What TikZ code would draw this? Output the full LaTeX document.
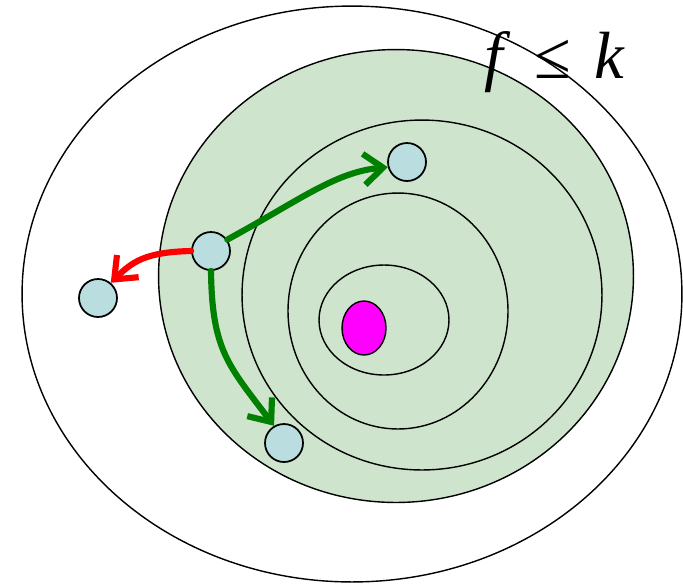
\documentclass[tikz,border=0pt]{standalone}
\usepackage{fontspec}
\newfontfamily\lblfont{Liberation Serif}
\usepackage{tikz}
\usetikzlibrary{
  arrows.meta,
  shapes.geometric
}
\definecolor{setgreen}{RGB}{207,228,205}
\definecolor{ptblue}{RGB}{186,222,224}
\definecolor{optpink}{RGB}{255,0,255}
\definecolor{movegreen}{RGB}{0,128,0}
\definecolor{movered}{RGB}{255,0,0}
\tikzset{
  lvlset/.style={draw, ellipse, inner sep=0pt, line width=0.8pt},
  ptnode/.style={draw, circle, fill=ptblue, inner sep=0pt,
    minimum size=0.76cm, line width=1pt},
  movearr/.style={-{Straight Barb[length=0.38cm, width=0.62cm]},
    line width=3.5pt, line cap=round, line join=round},
}

\begin{document}
\begin{tikzpicture}[x=0.02cm, y=-0.02cm]
  \useasboundingbox (0,0) rectangle (683,583);

  % level sets
  \node[lvlset, minimum width=13.2cm, minimum height=11.52cm] (out) at (352,294) {};
  \node[lvlset, fill=setgreen, minimum width=9.5cm, minimum height=9.06cm] (sub) at (396,276) {};
  \node[lvlset, minimum width=7.2cm, minimum height=7.0cm] (lvA) at (422,295) {};
  \node[lvlset, minimum width=4.4cm, minimum height=4.72cm] (lvB) at (398,311) {};
  \node[lvlset, minimum width=2.6cm, minimum height=2.2cm] (lvC) at (384,320) {};
  \node[lvlset, fill=optpink, minimum width=0.88cm, minimum height=1.08cm] (opt) at (364,328) {};

  \node[font=\lblfont\fontsize{38}{44}\selectfont] (lbl) at (555,62)
    {\textit{f}\hspace{0.35em}≤\hspace{0.35em}\textit{k}};

  % points
  \node[ptnode] (cur) at (211,251) {};
  \node[ptnode] (up) at (407,162) {};
  \node[ptnode] (down) at (284,443) {};
  \node[ptnode] (away) at (98,298) {};

  % moves
  \draw[movearr, movegreen] (cur.35) .. controls (300,200) and (335,172) .. (up.195);
  \draw[movearr, movegreen] (cur.south) .. controls (212,350) and (228,365) .. (down.120);
  \draw[movearr, movered] (cur.west) .. controls (145,252) and (132,262) .. (away.50);
\end{tikzpicture}
\end{document}
